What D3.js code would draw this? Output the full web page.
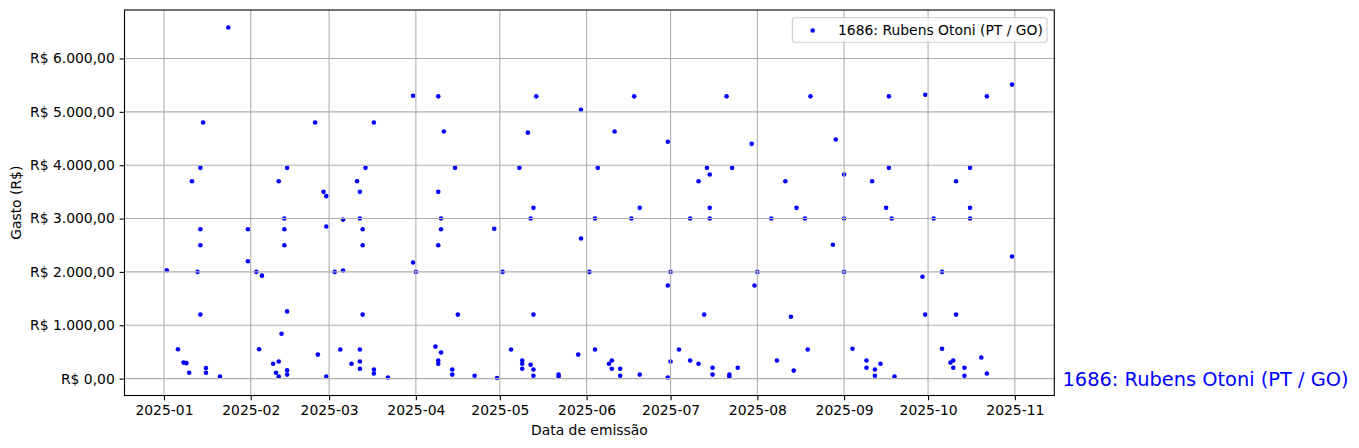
<!DOCTYPE html>
<html>
<head>
<meta charset="utf-8">
<script src="https://cdn.jsdelivr.net/npm/d3@7"></script>
<style>
  html, body { margin: 0; padding: 0; background: #ffffff; }
  svg { display: block; font-family: "DejaVu Sans", sans-serif; }
</style>
</head>
<body>
<svg id="chart" width="1359" height="448"></svg>
<script>
// ---------------- DATA ----------------
const seriesName = "1686: Rubens Otoni (PT / GO)";
const xLabel = "Data de emissão";
const yLabel = "Gasto (R$)";

const dates = [
  "2025-01-02","2025-01-06","2025-01-08","2025-01-09","2025-01-10","2025-01-11","2025-01-13","2025-01-14","2025-01-14","2025-01-14",
  "2025-01-14","2025-01-15","2025-01-16","2025-01-16","2025-01-21","2025-01-24","2025-01-31","2025-01-31",
  "2025-02-03","2025-02-04","2025-02-05","2025-02-09","2025-02-10","2025-02-11","2025-02-11","2025-02-11","2025-02-12","2025-02-13",
  "2025-02-13","2025-02-13","2025-02-14","2025-02-14","2025-02-14","2025-02-14","2025-02-24","2025-02-25","2025-02-27","2025-02-28",
  "2025-02-28","2025-02-28",
  "2025-03-03","2025-03-05","2025-03-06","2025-03-06","2025-03-09","2025-03-11","2025-03-12","2025-03-12","2025-03-12","2025-03-12",
  "2025-03-12","2025-03-13","2025-03-13","2025-03-13","2025-03-14","2025-03-17","2025-03-17","2025-03-17","2025-03-22","2025-03-31",
  "2025-03-31",
  "2025-04-01","2025-04-08","2025-04-09","2025-04-09","2025-04-09","2025-04-09","2025-04-09","2025-04-10","2025-04-10","2025-04-10",
  "2025-04-11","2025-04-14","2025-04-14","2025-04-15","2025-04-16","2025-04-22","2025-04-29","2025-04-30",
  "2025-05-02","2025-05-05","2025-05-08","2025-05-09","2025-05-09","2025-05-09","2025-05-11","2025-05-12","2025-05-12","2025-05-13",
  "2025-05-13","2025-05-13","2025-05-13","2025-05-14","2025-05-22","2025-05-22","2025-05-29","2025-05-30","2025-05-30",
  "2025-06-02","2025-06-04","2025-06-04","2025-06-05","2025-06-09","2025-06-10","2025-06-10","2025-06-11","2025-06-13","2025-06-13",
  "2025-06-17","2025-06-18","2025-06-20","2025-06-20","2025-06-30","2025-06-30","2025-06-30",
  "2025-07-01","2025-07-01","2025-07-04","2025-07-08","2025-07-08","2025-07-11","2025-07-11","2025-07-13","2025-07-14","2025-07-15",
  "2025-07-15","2025-07-15","2025-07-16","2025-07-16","2025-07-21","2025-07-22","2025-07-22","2025-07-23","2025-07-25","2025-07-30",
  "2025-07-31",
  "2025-08-01","2025-08-06","2025-08-08","2025-08-11","2025-08-13","2025-08-14","2025-08-15","2025-08-18","2025-08-19","2025-08-20",
  "2025-08-28","2025-08-29",
  "2025-09-01","2025-09-01","2025-09-01","2025-09-04","2025-09-09","2025-09-09","2025-09-11","2025-09-12","2025-09-12","2025-09-14",
  "2025-09-16","2025-09-17","2025-09-17","2025-09-18","2025-09-19","2025-09-29","2025-09-30","2025-09-30",
  "2025-10-03","2025-10-06","2025-10-06","2025-10-09","2025-10-10","2025-10-10","2025-10-11","2025-10-11","2025-10-14","2025-10-14",
  "2025-10-16","2025-10-16","2025-10-16","2025-10-20","2025-10-22","2025-10-22","2025-10-31","2025-10-31"
];

const values = [
  2030, 550, 300, 290, 110, 3700, 2000, 3950, 2800, 2500,
  1200, 4800, 200, 110, 40, 6580, 2800, 2200,
  2000, 550, 1930, 280, 110, 3700, 320, 40, 840, 3000,
  2800, 2500, 3950, 1260, 155, 75, 4800, 450, 3500, 3420,
  2850, 40,
  2000, 545, 2980, 2025, 280, 3700, 3500, 3000, 545, 320,
  185, 2800, 2500, 1200, 3950, 4800, 170, 95, 20, 5300,
  2175,
  2000, 600, 5290, 3500, 2500, 340, 280, 3000, 2800, 490,
  4630, 170, 75, 3950, 1200, 55, 2810, 12,
  2000, 545, 3950, 340, 280, 185, 4610, 3000, 260, 3200,
  1200, 170, 55, 5290, 75, 40, 450, 5040, 2625,
  2000, 3000, 545, 3950, 280, 340, 185, 4630, 185, 55,
  3000, 5290, 3200, 75, 4440, 1745, 20,
  2000, 320, 545, 3000, 340, 3700, 280, 1200, 3950, 3825,
  3200, 3000, 205, 75, 5290, 75, 40, 3950, 205, 4400,
  1745,
  2000, 3000, 340, 3700, 1160, 150, 3200, 3000, 545, 5290,
  2510, 4480,
  3825, 3000, 2000, 560, 340, 205, 3700, 170, 55, 280,
  3200, 5290, 3950, 3000, 40, 1910, 5320, 1200,
  3000, 2000, 560, 300, 340, 205, 3700, 1200, 205, 55,
  3950, 3200, 3000, 395, 5290, 95, 5510, 2290
];

const xTickMonths = ["2025-01","2025-02","2025-03","2025-04","2025-05","2025-06","2025-07","2025-08","2025-09","2025-10","2025-11"];
const yTickValues = [0, 1000, 2000, 3000, 4000, 5000, 6000];

// ---------------- LAYOUT ----------------
const W = 1359, H = 448;
const axL = 124.5, axR = 1054.3, axT = 10, axB = 395.5;
const blue = "#0000ff";
const gridColor = "#b0b0b0";
const fontPx = 13.9;

const parseDate = d3.timeParse("%Y-%m-%d");
const parseMonth = d3.timeParse("%Y-%m");
const points = dates.map((d, i) => ({ date: parseDate(d), value: values[i] }));

// matplotlib-like 5% margins
const xExt = d3.extent(points, d => +d.date);
const xPad = (xExt[1] - xExt[0]) * 0.05;
const yExt = d3.extent(points, d => d.value);
const yPad = (yExt[1] - yExt[0]) * 0.05;

const x = d3.scaleTime()
  .domain([new Date(xExt[0] - xPad), new Date(xExt[1] + xPad)])
  .range([axL, axR]);
const y = d3.scaleLinear()
  .domain([yExt[0] - yPad, yExt[1] + yPad])
  .range([axB, axT]);

const ptBR = d3.formatLocale({
  decimal: ",", thousands: ".", grouping: [3], currency: ["R$ ", ""]
});
const fmtMoney = ptBR.format("$,.2f");
const fmtMonth = d3.timeFormat("%Y-%m");

const svg = d3.select("#chart");
svg.append("rect").attr("width", W).attr("height", H).attr("fill", "#ffffff");

// points (drawn below the grid, as matplotlib does)
svg.append("g")
  .selectAll("circle")
  .data(points)
  .join("circle")
  .attr("cx", d => x(d.date))
  .attr("cy", d => y(d.value))
  .attr("r", 2.3)
  .attr("fill", blue);

// grid
const xTicks = xTickMonths.map(parseMonth);
const grid = svg.append("g").attr("stroke", gridColor).attr("stroke-width", 1.1);
grid.selectAll("line.vx")
  .data(xTicks).join("line")
  .attr("x1", d => x(d)).attr("x2", d => x(d))
  .attr("y1", axT).attr("y2", axB);
grid.selectAll("line.hy")
  .data(yTickValues).join("line")
  .attr("x1", axL).attr("x2", axR)
  .attr("y1", d => y(d)).attr("y2", d => y(d));

// axes
const xAxis = d3.axisBottom(x)
  .tickValues(xTicks)
  .tickFormat(fmtMonth)
  .tickSize(4.86)
  .tickPadding(4.4)
  .tickSizeOuter(0);
const yAxis = d3.axisLeft(y)
  .tickValues(yTickValues)
  .tickFormat(fmtMoney)
  .tickSize(4.86)
  .tickPadding(4.86)
  .tickSizeOuter(0);

const gx = svg.append("g").attr("transform", `translate(0,${axB})`).call(xAxis);
const gy = svg.append("g").attr("transform", `translate(${axL},0)`).call(yAxis);
[gx, gy].forEach(g => {
  g.select(".domain").remove();
  g.selectAll(".tick line").attr("stroke", "#000").attr("stroke-width", 1.1);
  g.selectAll(".tick text")
    .attr("fill", "#000")
    .style("font-family", "'DejaVu Sans', sans-serif")
    .style("font-size", fontPx + "px");
});

// spines
svg.append("rect")
  .attr("x", axL).attr("y", axT)
  .attr("width", axR - axL).attr("height", axB - axT)
  .attr("fill", "none").attr("stroke", "#000").attr("stroke-width", 1.1);

// axis labels
svg.append("text")
  .attr("x", (axL + axR) / 2).attr("y", 435)
  .attr("text-anchor", "middle")
  .style("font-size", fontPx + "px")
  .attr("fill", "#000")
  .text(xLabel);

svg.append("text")
  .attr("transform", `translate(21,${(axT + axB) / 2}) rotate(-90)`)
  .attr("text-anchor", "middle")
  .style("font-size", fontPx + "px")
  .attr("fill", "#000")
  .text(yLabel);

// legend
const lg = svg.append("g");
lg.append("rect")
  .attr("x", 792.3).attr("y", 17.8)
  .attr("width", 1047 - 792.3).attr("height", 42.3 - 17.8)
  .attr("rx", 2.8).attr("ry", 2.8)
  .attr("fill", "#ffffff").attr("fill-opacity", 0.8)
  .attr("stroke", "#cccccc").attr("stroke-width", 1.1);
lg.append("circle")
  .attr("cx", 812.7).attr("cy", 30.5).attr("r", 2.3).attr("fill", blue);
lg.append("text")
  .attr("x", 838).attr("y", 35.2)
  .style("font-size", fontPx + "px")
  .attr("fill", "#000")
  .text(seriesName);

// series annotation on the right, aligned with y = 0
svg.append("text")
  .attr("x", 1062.5).attr("y", y(0))
  .attr("dy", "0.36em")
  .style("font-size", "19.4px")
  .attr("fill", blue)
  .text(seriesName);
</script>
</body>
</html>
